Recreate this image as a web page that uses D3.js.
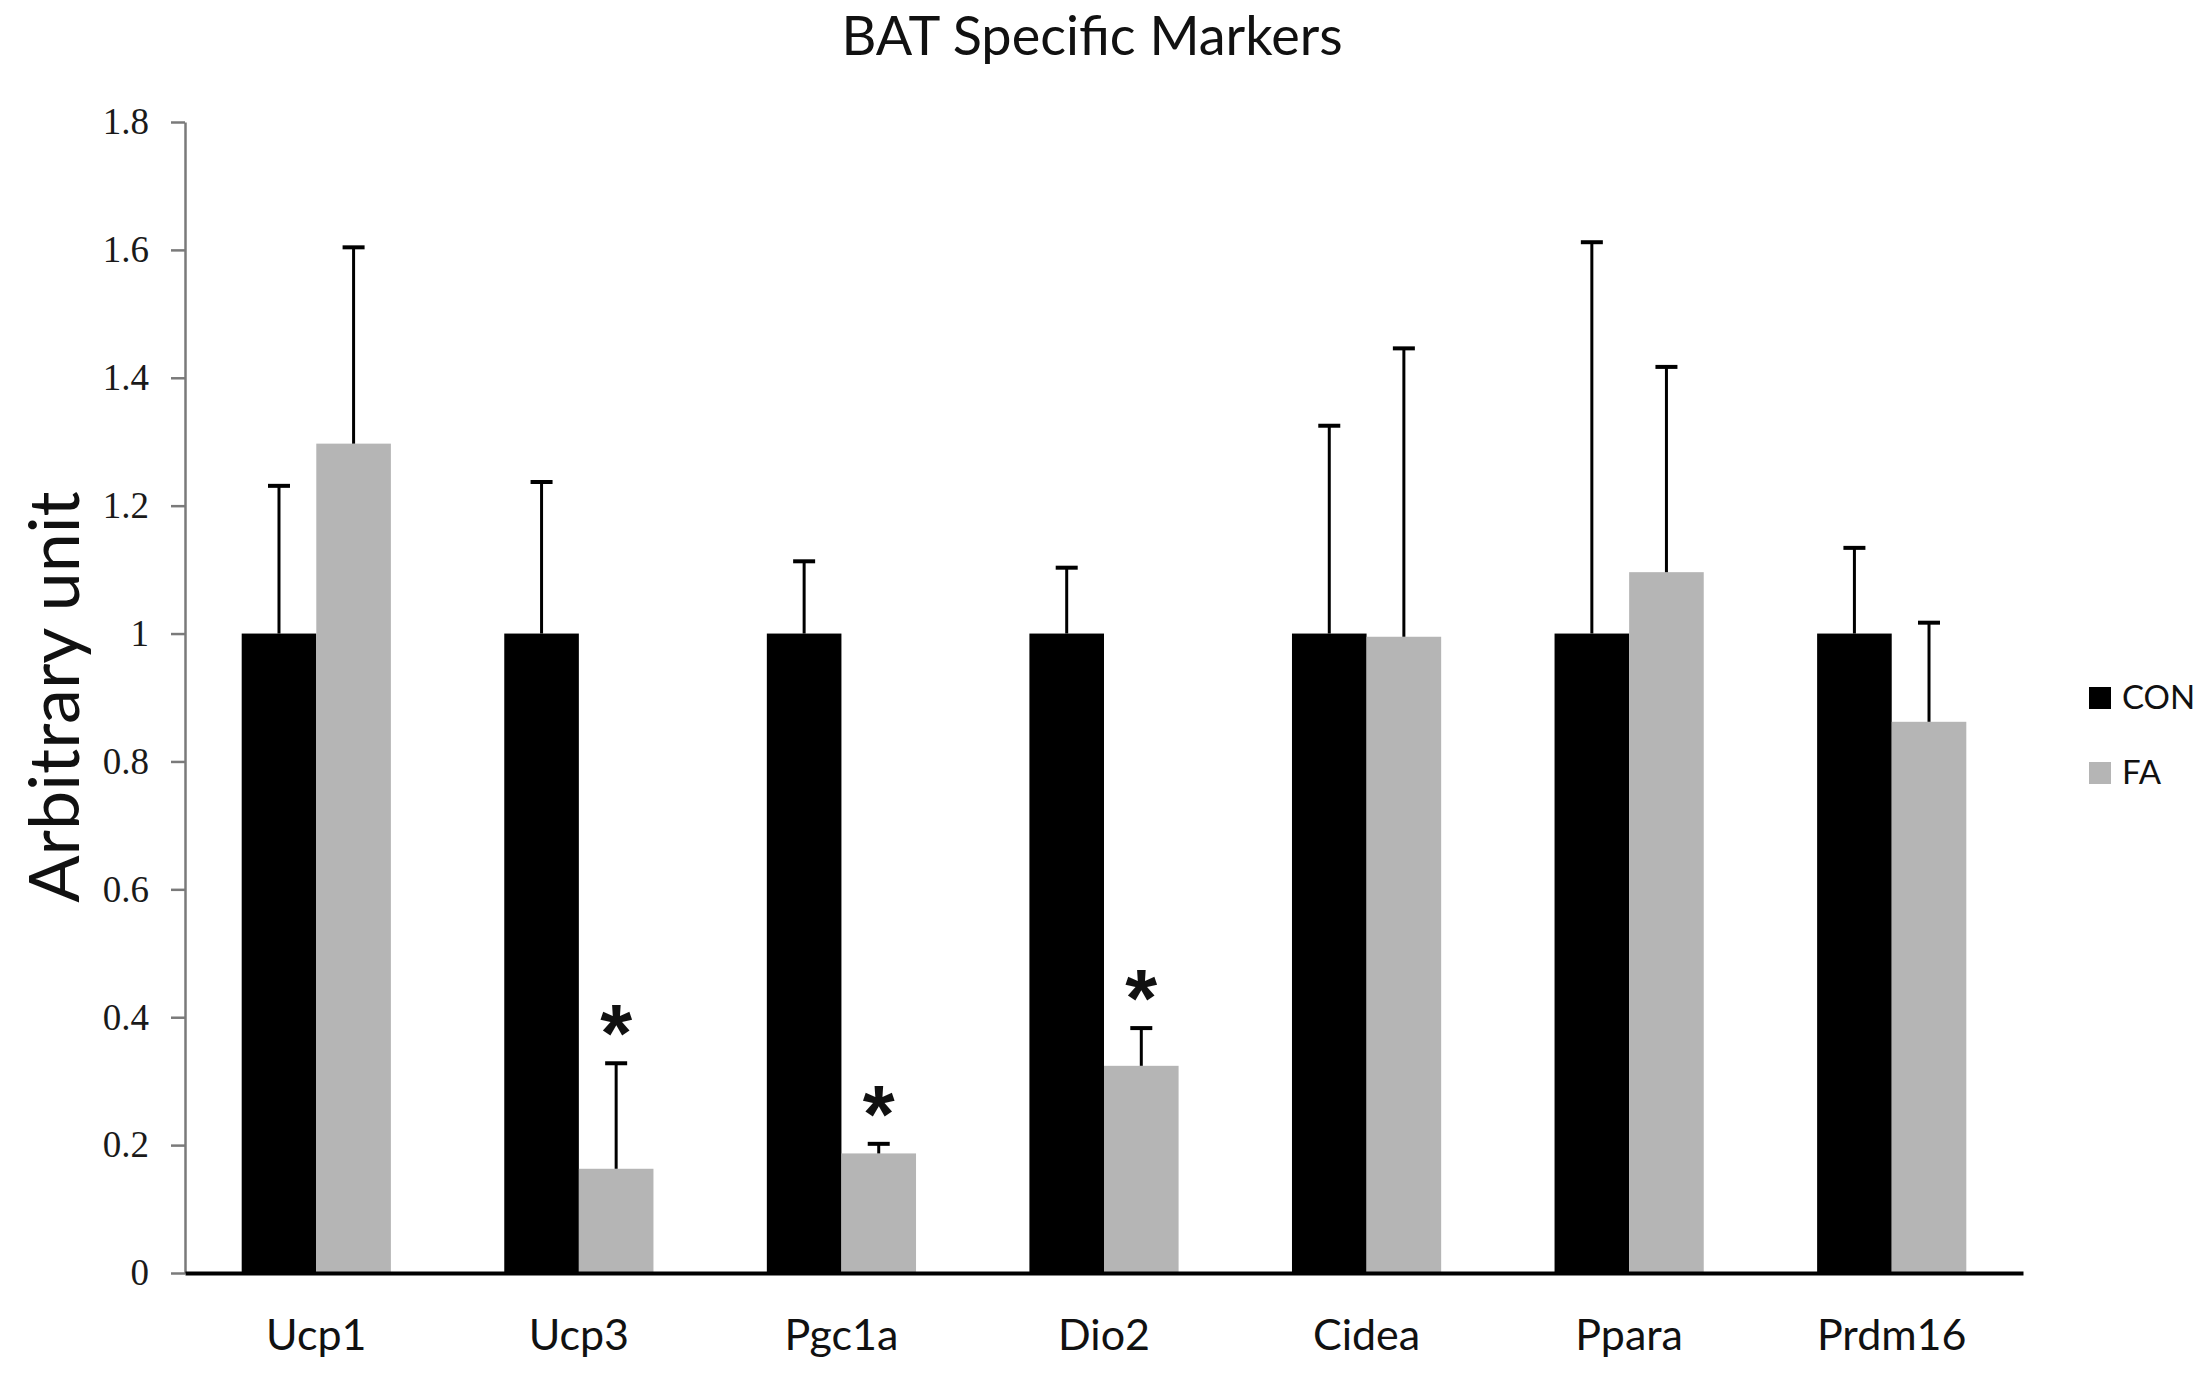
<!DOCTYPE html>
<meta charset="utf-8">
<script src="https://d3js.org/d3.v7.min.js"></script>
<style>
    body { margin: 0; background: #fff; }
</style>
<div id="chart"></div>
<script>

    // data
    var markers = ["Ucp1", "Ucp3", "Pgc1a", "Dio2", "Cidea", "Ppara", "Prdm16"];
    var groups = ["CON", "FA"];
    var conMean = [1, 1, 1, 1, 1, 1, 1];
    var conErr = [0.231, 0.237, 0.113, 0.103, 0.325, 0.612, 0.134];
    var faMean = [1.297, 0.163, 0.187, 0.324, 0.995, 1.096, 0.862];
    var faErr = [0.307, 0.165, 0.015, 0.059, 0.451, 0.321, 0.155];
    var faSignif = ["", "*", "*", "*", "", "", ""];
    var yTicks = [0, 0.2, 0.4, 0.6, 0.8, 1, 1.2, 1.4, 1.6, 1.8];
    var yTickLabels = ["0", "0.2", "0.4", "0.6", "0.8", "1", "1.2", "1.4", "1.6", "1.8"];
    var colors = { CON: "#000000", FA: "#b5b5b5" };

    var W = 2209, H = 1374;
    var margin = { top: 122, right: 186, bottom: 101, left: 185 },
        width = W - margin.left - margin.right,
        height = H - margin.top - margin.bottom;

    var sans = "Lato, 'Open Sans', sans-serif";

    var svg = d3.select("#chart")
        .append("svg")
        .attr("width", W)
        .attr("height", H)
        .style("background", "#fff");

    var g = svg.append("g")
        .attr("transform", "translate(" + margin.left + "," + margin.top + ")");

    // build rows from the arrays
    var rows = markers.map(function (m, i) {
        return {
            marker: m,
            values: [
                { group: "CON", mean: conMean[i], err: conErr[i], sig: "" },
                { group: "FA", mean: faMean[i], err: faErr[i], sig: faSignif[i] }
            ]
        };
    });

    var x0 = d3.scaleBand()
        .domain(markers)
        .range([0, width])
        .padding(0);

    var x1 = d3.scaleBand()
        .domain(groups)
        .range([0, x0.bandwidth()])
        .paddingInner(0)
        .paddingOuter(0.76);

    var y = d3.scaleLinear()
        .domain([0, 1.8])
        .range([height, 0]);

    // title
    svg.append("text")
        .attr("x", 1092)
        .attr("y", 55)
        .attr("text-anchor", "middle")
        .style("font-family", sans)
        .style("font-size", "54px")
        .style("fill", "#111")
        .text("BAT Specific Markers");

    // y axis
    var yAxis = g.append("g")
        .call(d3.axisLeft(y)
            .tickValues(yTicks)
            .tickFormat(function (d, i) { return yTickLabels[i]; })
            .tickSize(14)
            .tickSizeOuter(0)
            .tickPadding(22));
    yAxis.select(".domain").attr("stroke", "#7a7a7a").attr("stroke-width", 2.5);
    yAxis.selectAll(".tick line").attr("stroke", "#7a7a7a").attr("stroke-width", 2.5);
    yAxis.selectAll(".tick text")
        .style("font-family", "'Liberation Serif', 'Times New Roman', serif")
        .style("font-size", "37px")
        .style("fill", "#1a1a1a");

    // y axis label
    svg.append("text")
        .attr("transform", "translate(79," + 697 + ") rotate(-90)")
        .attr("text-anchor", "middle")
        .style("font-family", sans)
        .style("font-size", "70px")
        .style("fill", "#111")
        .text("Arbitrary unit");

    var grp = g.selectAll(".grp")
        .data(rows)
        .enter()
        .append("g")
        .attr("transform", function (d) { return "translate(" + x0(d.marker) + ",0)"; });

    // bars
    grp.selectAll("rect")
        .data(function (d) { return d.values; })
        .enter()
        .append("rect")
        .attr("x", function (d) { return x1(d.group); })
        .attr("y", function (d) { return y(d.mean); })
        .attr("width", x1.bandwidth())
        .attr("height", function (d) { return height - y(d.mean); })
        .attr("fill", function (d) { return colors[d.group]; });

    // error bars (upper only)
    var cap = 22;
    grp.selectAll(".err")
        .data(function (d) { return d.values; })
        .enter()
        .append("line")
        .attr("x1", function (d) { return x1(d.group) + x1.bandwidth() / 2; })
        .attr("x2", function (d) { return x1(d.group) + x1.bandwidth() / 2; })
        .attr("y1", function (d) { return y(d.mean); })
        .attr("y2", function (d) { return y(d.mean + d.err); })
        .attr("stroke", "#000")
        .attr("stroke-width", 3);

    grp.selectAll(".cap")
        .data(function (d) { return d.values; })
        .enter()
        .append("line")
        .attr("x1", function (d) { return x1(d.group) + x1.bandwidth() / 2 - cap / 2; })
        .attr("x2", function (d) { return x1(d.group) + x1.bandwidth() / 2 + cap / 2; })
        .attr("y1", function (d) { return y(d.mean + d.err); })
        .attr("y2", function (d) { return y(d.mean + d.err); })
        .attr("stroke", "#000")
        .attr("stroke-width", 4);

    // significance stars
    grp.selectAll(".sig")
        .data(function (d) { return d.values.filter(function (v) { return v.sig; }); })
        .enter()
        .append("text")
        .attr("x", function (d) { return x1(d.group) + x1.bandwidth() / 2; })
        .attr("y", function (d) { return y(d.mean + d.err) - 2; })
        .attr("text-anchor", "middle")
        .style("font-family", "'Liberation Sans', Arial, sans-serif")
        .style("font-weight", "bold")
        .style("font-size", "82px")
        .style("fill", "#111")
        .text(function (d) { return d.sig; });

    // x axis
    var xAxis = g.append("g")
        .attr("transform", "translate(0," + height + ")")
        .call(d3.axisBottom(x0).tickSize(0).tickSizeOuter(0).tickPadding(46));
    xAxis.select(".domain").attr("stroke", "#000").attr("stroke-width", 4);
    xAxis.selectAll(".tick text")
        .style("font-family", sans)
        .style("font-size", "43px")
        .style("fill", "#111");

    // legend
    var legend = svg.append("g")
        .attr("transform", "translate(2089,687)");

    legend.selectAll("rect")
        .data(groups)
        .enter()
        .append("rect")
        .attr("x", 0)
        .attr("y", function (d, i) { return i * 75; })
        .attr("width", 22)
        .attr("height", 22)
        .attr("fill", function (d) { return colors[d]; });

    legend.selectAll("text")
        .data(groups)
        .enter()
        .append("text")
        .attr("x", 33)
        .attr("y", function (d, i) { return i * 75 + 22; })
        .style("font-family", sans)
        .style("font-size", "33px")
        .style("fill", "#111")
        .text(function (d) { return d; });

</script>
